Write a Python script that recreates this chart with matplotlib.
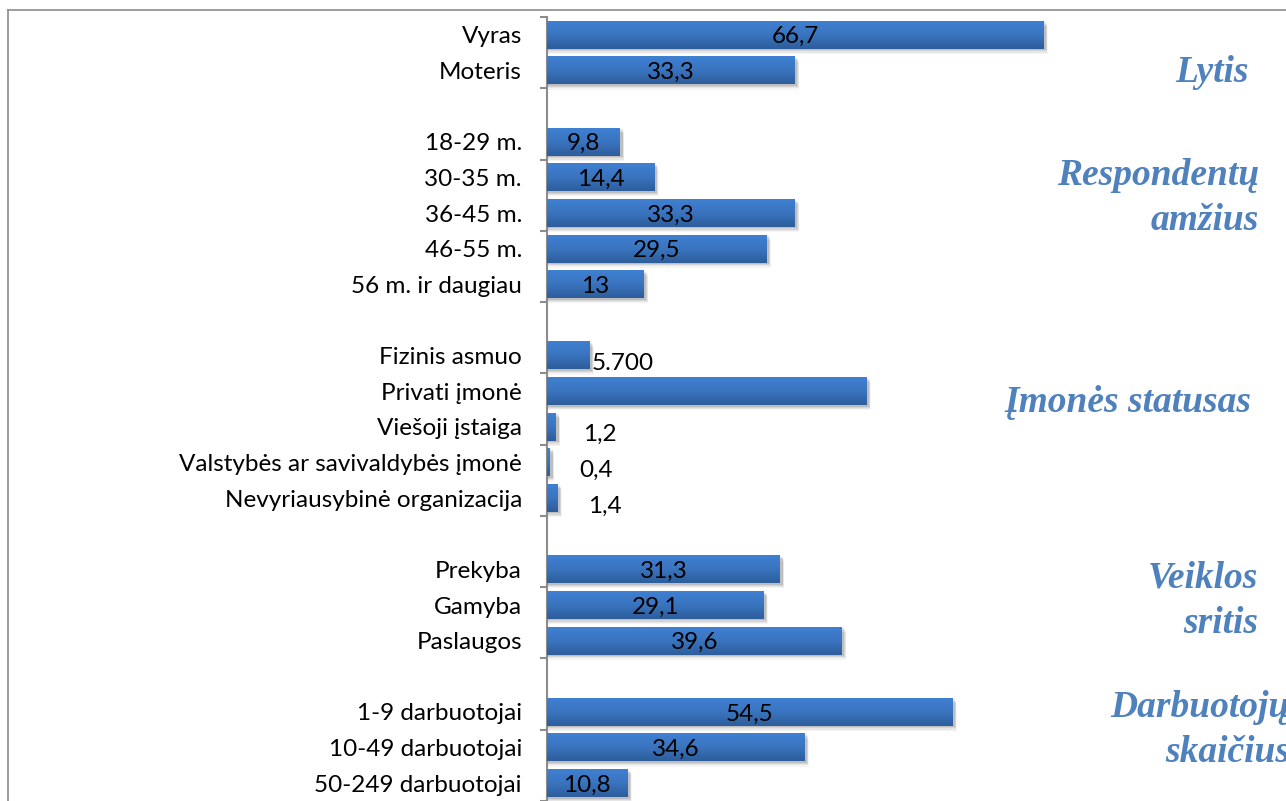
import numpy as np
import matplotlib
matplotlib.use("Agg")
import matplotlib.pyplot as plt
from matplotlib.colors import LinearSegmentedColormap
from matplotlib.lines import Line2D

# ---- data ----
categories = ["Vyras", "Moteris", "",
              "18-29 m.", "30-35 m.", "36-45 m.", "46-55 m.", "56 m. ir daugiau", "",
              "Fizinis asmuo", "Privati įmonė", "Viešoji įstaiga",
              "Valstybės ar savivaldybės įmonė", "Nevyriausybinė organizacija", "",
              "Prekyba", "Gamyba", "Paslaugos", "",
              "1-9 darbuotojai", "10-49 darbuotojai", "50-249 darbuotojai"]
values = [66.7, 33.3, None,
          9.8, 14.4, 33.3, 29.5, 13, None,
          5.7, 42.9, 1.2, 0.4, 1.4, None,
          31.3, 29.1, 39.6, None,
          54.5, 34.6, 10.8]
value_labels = ["66,7", "33,3", "",
                "9,8", "14,4", "33,3", "29,5", "13", "",
                "5.700", "", "1,2", "0,4", "1,4", "",
                "31,3", "29,1", "39,6", "",
                "54,5", "34,6", "10,8"]
# labels drawn outside bar (offset in px from bar end)
outside_offsets = {9: (2, -8), 11: (27, -8), 12: (29, -8), 13: (31, -8)}
group_titles = ["Lytis", "Respondentų\namžius", "Įmonės statusas",
                "Veiklos\nsritis", "Darbuotojų\nskaičius"]

W, H = 1286, 801
fig = plt.figure(figsize=(W / 100, H / 100), dpi=100)
fig.patch.set_facecolor("white")

ax_left, ax_top = 547, 17
ax = fig.add_axes([ax_left / W, 0, (W - ax_left) / W, (H - ax_top) / H])
n = len(categories)
xmax = (W - ax_left) / 7.444
ax.set_xlim(0, xmax)
ax.set_ylim(n, 0)

ys = np.arange(n) + 0.5
bar_h = 0.78
gray = "#8c8c8c"
cmap = LinearSegmentedColormap.from_list("g", ["#3f80d2", "#3a74bf", "#2d5d9b"])
grad = np.linspace(0, 1, 64).reshape(-1, 1)

for i, v in enumerate(values):
    if v is None:
        continue
    y = ys[i]
    # soft shadow
    for k, a in enumerate([0.10, 0.08, 0.06, 0.04]):
        dy = 0.04 + 0.035 * k
        ax.barh(y + dy, v + 0.25 + 0.08 * k, height=bar_h, left=0.1,
                color="black", alpha=a, linewidth=0, zorder=1)
    ax.barh(y, v, height=bar_h, color="#3a74bf", linewidth=0, zorder=2)
    ax.imshow(grad, cmap=cmap, aspect="auto", origin="upper",
              extent=(0, v, y + bar_h / 2, y - bar_h / 2), zorder=3,
              interpolation="bilinear")

ax.set_xlim(0, xmax)
ax.set_ylim(n, 0)

lab_font = dict(family="Lato", size=17.5, color="black")
for i, v in enumerate(values):
    if v is None or not value_labels[i]:
        continue
    if i in outside_offsets:
        dx, dy = outside_offsets[i]
        ax.annotate(value_labels[i], xy=(v, ys[i]), xytext=(dx * 0.72, dy * 0.72),
                    textcoords="offset points", ha="left", va="center",
                    zorder=5, **lab_font)
    else:
        ax.annotate(value_labels[i], xy=(v / 2, ys[i]), xytext=(0, -2 * 0.72),
                    textcoords="offset points", ha="center", va="center",
                    zorder=5, **lab_font)

# axes styling
for s in ["top", "right", "bottom"]:
    ax.spines[s].set_visible(False)
ax.spines["left"].set_color(gray)
ax.spines["left"].set_linewidth(1.5)
ax.set_xticks([])
ax.set_yticks(np.arange(0, n + 1, 2))
ax.set_yticklabels([])
ax.tick_params(axis="y", which="major", length=5, width=1.5, color=gray, direction="out")
ax.set_yticks(ys, minor=True)
ax.set_yticklabels(categories, minor=True, fontfamily="Lato", fontsize=17.5)
ax.tick_params(axis="y", which="minor", length=0, pad=18)

# group titles
title_pos = [(1249, 72), (1259, 198), (1251, 402), (1258, 601), (1290, 730)]
for t, (x, y) in zip(group_titles, title_pos):
    fig.text(x / W, 1 - y / H, t, ha="right", va="center", family="Liberation Serif",
             style="italic", weight="bold", size=27, color="#4f81bd", linespacing=1.38)

# outer frame (partially visible)
fig.add_artist(Line2D([8 / W, 1.0], [1 - 10 / H, 1 - 10 / H], transform=fig.transFigure,
                      color=gray, lw=1.2))
fig.add_artist(Line2D([8 / W, 8 / W], [0, 1 - 10 / H], transform=fig.transFigure,
                      color=gray, lw=1.2))

fig.savefig("out.png", dpi=100, facecolor="white")
